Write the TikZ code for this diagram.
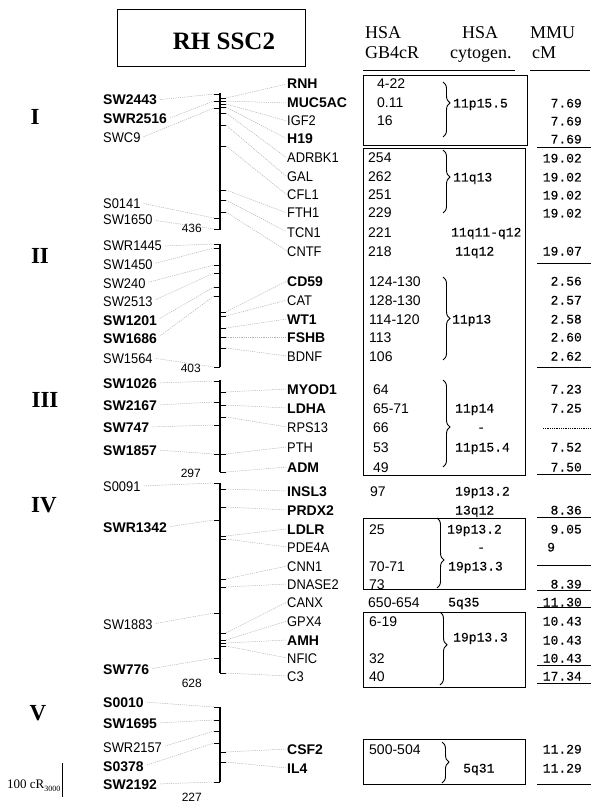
\documentclass[tikz,border=0pt]{standalone}
\usepackage{fontspec}
\setmainfont{Liberation Serif}
\newfontfamily\sansN{Liberation Sans}[FakeStretch=0.92]
\newfontfamily\sansW{Liberation Sans}
\newfontfamily\monoF{Liberation Mono}[FakeBold=0.25]
\usetikzlibrary{decorations.pathreplacing}
\newcommand\fsz[1]{\fontsize{#1}{#1}\selectfont}
\newcommand\mkfb{\sansW\bfseries\fsz{14}}
\newcommand\mkfn{\sansN\fsz{14}}
\begin{document}
\begin{tikzpicture}[x=1pt,y=-1pt,
  mk/.style={inner sep=0pt, text height=10pt, text depth=0pt, font=\csname mkf#1\endcsname},
  gbv/.style={inner sep=0pt, anchor=west, text height=10pt, text depth=0pt, font=\sansW\fsz{14}},
  mono/.style={inner sep=0pt, text height=9pt, text depth=0pt, font=\monoF\fsz{13}},
  hdr/.style={inner sep=0pt, font=\fsz{18}},
  roman/.style={inner sep=0pt, anchor=base, font=\bfseries\fsz{23}},
  num/.style={inner sep=0pt, anchor=base east, font=\sansW\fsz{12}},
  conn/.style={draw=gray!60, dash pattern=on 1.2pt off 1pt, line width=0.5pt, shorten <=3pt},
  connR/.style={draw=gray!60, dash pattern=on 1.2pt off 1pt, line width=0.5pt, shorten >=1pt},
  tck/.style={line width=0.9pt},
  bar/.style={line width=1.2pt},
  uline/.style={line width=0.9pt},
  boxl/.style={line width=0.9pt},
  brc/.style={line width=0.9pt, decorate},
]
\useasboundingbox (0,0) rectangle (591,802);

% title
\node[draw, line width=1pt, minimum width=188pt, minimum height=57pt, inner sep=0pt] (tbox) at (211,38.5) {};
\node[anchor=base, inner sep=0pt, font=\bfseries\fsz{25}] (title) at (224,50) {RH SSC2};

% headers
\node[hdr, anchor=base west] (h1a) at (365,39) {HSA};
\node[hdr, anchor=base west] (h1b) at (365,59) {GB4cR};
\node[hdr, anchor=base] (h2a) at (480,39) {HSA};
\node[hdr, anchor=base west] (h2b) at (450,59) {cytogen.};
\node[hdr, anchor=base west] (h3a) at (530,39) {MMU};
\node[hdr, anchor=base west] (h3b) at (532,59) {cM};
\draw[uline] (363,70) -- (515,70);
\draw[uline] (530,70) -- (590,70);

% roman numerals
\node[roman] (rI) at (35,125) {I};
\node[roman] (rII) at (40,263) {II};
\node[roman] (rIII) at (45,407) {III};
\node[roman] (rIV) at (44,512) {IV};
\node[roman] (rV) at (38,720) {V};

% bars
\draw[bar] (220,93) -- (220,230);
\draw[bar] (220,244) -- (220,367);
\draw[bar] (220,380) -- (220,472);
\draw[bar] (220,483) -- (220,673);
\draw[bar] (220,707) -- (220,782);

% bar lengths
\node[num] (n1) at (202,233) {436};
\node[num] (n2) at (201,372) {403};
\node[num] (n3) at (201,477) {297};
\node[num] (n4) at (202,687) {628};
\node[num] (n5) at (202,801) {227};

% left markers
\foreach \nm/\y/\ty/\bw in {SW2443/100/94/b, SWR2516/119/101/b, SWC9/138/108/n, S0141/203/218/n, SW1650/220/229/n,
  SWR1445/246/244/n, SW1450/264/248/n, SW240/283/265/n, SW2513/301/273/n, SW1201/320/287/b, SW1686/338/296/b, SW1564/358/367/n,
  SW1026/383/381/b, SW2167/405/402/b, SW747/427/425/b, SW1857/450/454/b,
  S0091/486/483/n, SWR1342/527/520/b, SW1883/624/613/n, SW776/669/658/b,
  S0010/702/707/b, SW1695/723/720/b, SWR2157/747/731/n, S0378/766/743/b, SW2192/784/782/b}{
  \node[mk=\bw, anchor=west] (m\nm) at (103,\y) {\nm};
  \coordinate (mt\nm) at (214,\ty);
  \draw[tck] (mt\nm) -- ++(6,0);
  \draw[conn] (m\nm.east) -- (mt\nm);
}

% genes
\foreach \nm/\y/\ty/\bw in {RNH/84/98/b, MUC5AC/103/101/b, IGF2/121/104/n, H19/139/107/b, ADRBK1/158/113/n, GAL/177/125/n,
  CFL1/195/146/n, FTH1/213/190/n, TCN1/232/200/n, CNTF/251/212/n,
  CD59/281/312/b, CAT/300/316/n, WT1/319/328/b, FSHB/337/337/b, BDNF/356/348/n,
  MYOD1/389/392/b, LDHA/408/405/b, RPS13/427/417/n, PTH/447/454/n, ADM/467/472/b,
  INSL3/491/489/b, PRDX2/510/507/b, LDLR/529/536/b, PDE4A/547/539/n, CNN1/566/579/n, DNASE2/584/587/n,
  CANX/602/633/n, GPX4/621/640/n, AMH/640/643/b, NFIC/658/646/n, C3/676/673/n,
  CSF2/749/752/b, IL4/768/762/b}{
  \node[mk=\bw, anchor=west] (g\nm) at (287,\y) {\nm};
  \coordinate (gt\nm) at (226,\ty);
  \draw[tck] (gt\nm) -- ++(-6,0);
  \draw[connR] (gt\nm) -- (g\nm.west);
}

% boxes
\draw[boxl] (363,75) rectangle (527,145);
\draw[boxl] (363,148) rectangle (525,475);
\draw[boxl] (363,518) rectangle (525,589);
\draw[boxl] (363,612) rectangle (525,687);
\draw[boxl] (363,739) rectangle (525,784);

% GB4cR values
\foreach \x/\y/\v [count=\i] in {377/84/4-22, 377/103/0.11, 377/121/16, 368/158/254, 368/177/262, 368/195/251, 368/213/229,
  368/232/221, 368/251/218, 369/281/124-130, 369/300/128-130, 369/319/114-120, 369/337/113, 369/356/106,
  373/389/64, 373/408/65-71, 373/427/66, 373/447/53, 373/467/49, 370/491/97, 369/529/25, 369/566/70-71,
  369/584/73, 368/602/650-654, 369/621/6-19, 369/658/32, 369/676/40, 369/749/500-504}{
  \node[gbv] (gb\i) at (\x,\y) {\v};
}

% cytogenetic positions
\foreach \x/\y/\v [count=\i] in {453/103/11p15.5, 453/177/11q13, 451/232/11q11-q12, 455/251/11q12, 452/319/11p13,
  455/408/11p14, 477/427/-, 455/447/11p15.4, 455/491/19p13.2, 455/510/13q12, 447/529/19p13.2, 477/547/-,
  448/566/19p13.3, 448/602/5q35, 453/637/19p13.3, 463/768/5q31}{
  \node[mono, anchor=west] (cy\i) at (\x,\y) {\v};
}

% braces
\draw[brc, decoration={brace, amplitude=7pt, aspect=0.38}] (443,82) -- (443,137);
\draw[brc, decoration={brace, amplitude=7pt, aspect=0.43}] (443,150) -- (443,213);
\draw[brc, decoration={brace, amplitude=7pt, aspect=0.5}] (443,277) -- (443,360);
\draw[brc, decoration={brace, amplitude=7pt, aspect=0.54}] (443,380) -- (443,467);
\draw[brc, decoration={brace, amplitude=7pt, aspect=0.6}] (437,518) -- (437,588);
\draw[brc, decoration={brace, amplitude=7pt, aspect=0.45}] (440,612) -- (440,685);
\draw[brc, decoration={brace, amplitude=7pt, aspect=0.49}] (442,742) -- (442,783);

% MMU cM values
\foreach \y/\v [count=\i] in {103/7.69, 121/7.69, 139/7.69, 158/19.02, 177/19.02, 195/19.02, 213/19.02, 251/19.07,
  281/2.56, 300/2.57, 319/2.58, 337/2.60, 356/2.62, 389/7.23, 408/7.25, 447/7.52, 467/7.50, 510/8.36, 529/9.05,
  584/8.39, 602/11.30, 621/10.43, 640/10.43, 658/10.43, 676/17.34, 749/11.29, 768/11.29}{
  \node[mono, anchor=east] (mm\i) at (582,\y) {\v};
}
\node[mono, anchor=west] (mm9) at (547,547) {9};
\foreach \y in {147,263,367,474,517,565,590,607,665,683,784}{
  \draw[uline] (537,\y) -- (591,\y);
}
\draw[line width=0.8pt, densely dotted] (543,428) -- (591,428);

% scale bar
\node[anchor=base west, inner sep=0pt, font=\fsz{13}] (scl) at (7,788) {100 cR\raisebox{-3pt}{\fsz{8}3000}};
\draw[line width=0.8pt] (62,763) -- (62,797);
\end{tikzpicture}
\end{document}
